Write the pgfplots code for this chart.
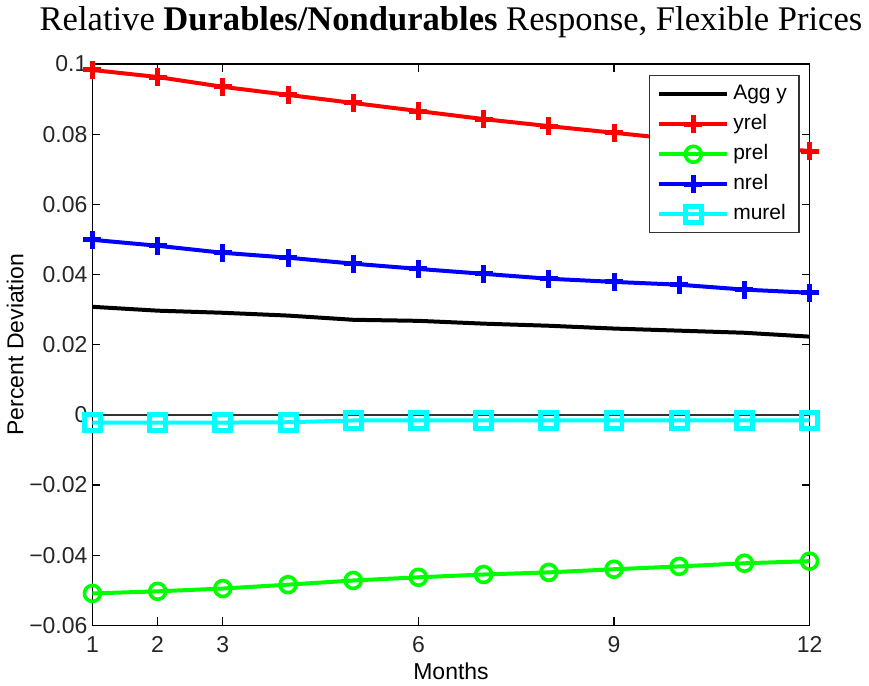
\documentclass[border=0pt]{standalone}
\usepackage{fontspec}
\setmainfont{Liberation Sans}
\newfontfamily\titlefont{Liberation Serif}
\usepackage{pgfplots}
\pgfplotsset{compat=1.18}
\definecolor{mred}{RGB}{255,0,0}
\definecolor{mgreen}{RGB}{0,255,0}
\definecolor{mblue}{RGB}{0,0,255}
\definecolor{mcyan}{RGB}{0,255,255}
\begin{document}
\begin{tikzpicture}
\begin{axis}[
  scale only axis,
  width=359pt, height=281pt,
  xmin=1, xmax=12, ymin=-0.06, ymax=0.1,
  xtick={1,2,3,6,9,12},
  ytick={-0.06,-0.04,-0.02,0,0.02,0.04,0.06,0.08,0.1},
  yticklabels={−0.06,−0.04,−0.02,0,0.02,0.04,0.06,0.08,0.1},
  xticklabels={1,2,3,6,9,12},
  tick align=inside,
  major tick length=4pt,
  tick style={black, line width=0.6pt},
  axis line style={black, line width=0.7pt},
  ticklabel style={font=\fontsize{11.5}{13}\selectfont, text=black!85},
  xticklabel style={yshift=-2pt},
  yticklabel style={xshift=1pt},
  xlabel={Months},
  ylabel={Percent Deviation},
  label style={font=\fontsize{11.5}{13}\selectfont},
  xlabel style={yshift=2pt},
  ylabel style={yshift=-4pt},
  title={\titlefont\fontsize{17.3}{20}\selectfont Relative \textbf{Durables/Nondurables} Response, Flexible Prices},
  title style={yshift=3.5pt},
  legend style={at={(0.986,0.980)}, anchor=north east, draw=black!80, line width=0.6pt,
    font=\fontsize{10.5}{12}\selectfont, row sep=1.5pt, inner xsep=4pt, inner ysep=2.5pt,
    nodes={inner sep=2pt, text height=7.5pt, text depth=2pt},
    cells={anchor=west}},
  legend image code/.code={\draw[mark repeat=2,mark phase=2] plot coordinates {(0pt,0pt)(17pt,0pt)(34pt,0pt)};},
  clip=false,
]
\addplot[black, line width=2pt] coordinates {
(1,0.0308)(2,0.0297)(3,0.0291)(4,0.0283)(5,0.0271)(6,0.0268)(7,0.0260)(8,0.0254)(9,0.0246)(10,0.0240)(11,0.0234)(12,0.0223)};
\addlegendentry{Agg y}
\addplot[mred, line width=2pt, mark=+, mark size=4.5pt, mark options={line width=2.5pt}] coordinates {
(1,0.0983)(2,0.0963)(3,0.0935)(4,0.0912)(5,0.0889)(6,0.0866)(7,0.0843)(8,0.0823)(9,0.0804)(10,0.0785)(11,0.0767)(12,0.0752)};
\addlegendentry{yrel}
\addplot[mgreen, line width=2pt, mark=o, mark size=4pt, mark options={line width=1.8pt}] coordinates {
(1,-0.0509)(2,-0.0503)(3,-0.0495)(4,-0.0484)(5,-0.0472)(6,-0.0463)(7,-0.0455)(8,-0.0449)(9,-0.0440)(10,-0.0432)(11,-0.0423)(12,-0.0417)};
\addlegendentry{prel}
\addplot[mblue, line width=2pt, mark=+, mark size=4.5pt, mark options={line width=2.5pt}] coordinates {
(1,0.0499)(2,0.0482)(3,0.0462)(4,0.0448)(5,0.0431)(6,0.0416)(7,0.0402)(8,0.0388)(9,0.0379)(10,0.0371)(11,0.0357)(12,0.0348)};
\addlegendentry{nrel}
\addplot[mcyan, line width=2pt, mark=square, mark size=4pt, mark options={line width=2.5pt}] coordinates {
(1,-0.0022)(2,-0.0022)(3,-0.0022)(4,-0.0021)(5,-0.0016)(6,-0.0016)(7,-0.0016)(8,-0.0016)(9,-0.0016)(10,-0.0016)(11,-0.0016)(12,-0.0016)};
\addlegendentry{murel}
\addplot[black!80, line width=0.7pt, forget plot] coordinates {(1,0)(12,0)};
\end{axis}
\end{tikzpicture}
\end{document}
